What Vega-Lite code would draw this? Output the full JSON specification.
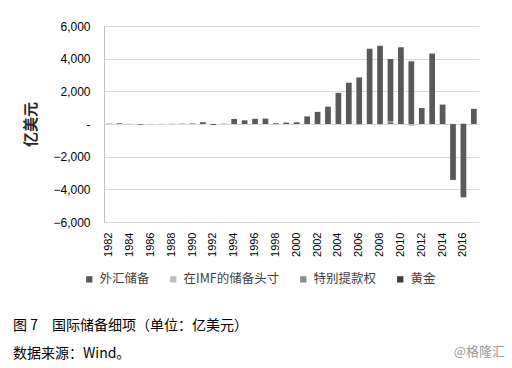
{
  "$schema": "https://vega.github.io/schema/vega-lite/v6.json",
  "width": 375,
  "height": 196,
  "autosize": {"type": "none"},
  "padding": {"left": 104, "top": 26, "right": 33, "bottom": 146},
  "background": "white",
  "title": {
    "text": "图 7　国际储备细项（单位：亿美元）",
    "subtitle": "数据来源：Wind。",
    "orient": "bottom",
    "anchor": "start",
    "frame": "group",
    "dx": -91,
    "offset": -40,
    "font": "Noto Sans CJK SC",
    "fontSize": 14,
    "fontWeight": "normal",
    "color": "#000000",
    "subtitleFont": "Noto Sans CJK SC",
    "subtitleFontSize": 14,
    "subtitleColor": "#000000",
    "subtitlePadding": 14
  },
  "layer": [
    {
      "data": {
        "values": [
          {"year": 1982, "type": "外汇储备", "value": 20},
          {"year": 1983, "type": "外汇储备", "value": 45},
          {"year": 1984, "type": "外汇储备", "value": 10},
          {"year": 1985, "type": "外汇储备", "value": -40},
          {"year": 1986, "type": "外汇储备", "value": 5},
          {"year": 1987, "type": "外汇储备", "value": 10},
          {"year": 1988, "type": "外汇储备", "value": 15},
          {"year": 1989, "type": "外汇储备", "value": 20},
          {"year": 1990, "type": "外汇储备", "value": 30},
          {"year": 1991, "type": "外汇储备", "value": 111},
          {"year": 1992, "type": "外汇储备", "value": -60},
          {"year": 1993, "type": "外汇储备", "value": 18},
          {"year": 1994, "type": "外汇储备", "value": 305},
          {"year": 1995, "type": "外汇储备", "value": 225},
          {"year": 1996, "type": "外汇储备", "value": 317},
          {"year": 1997, "type": "外汇储备", "value": 330},
          {"year": 1998, "type": "外汇储备", "value": 50},
          {"year": 1999, "type": "外汇储备", "value": 85},
          {"year": 2000, "type": "外汇储备", "value": 105},
          {"year": 2001, "type": "外汇储备", "value": 466},
          {"year": 2002, "type": "外汇储备", "value": 742},
          {"year": 2003, "type": "外汇储备", "value": 1060},
          {"year": 2004, "type": "外汇储备", "value": 1904},
          {"year": 2005, "type": "外汇储备", "value": 2526},
          {"year": 2006, "type": "外汇储备", "value": 2853},
          {"year": 2007, "type": "外汇储备", "value": 4607},
          {"year": 2008, "type": "外汇储备", "value": 4795},
          {"year": 2009, "type": "外汇储备", "value": 3821},
          {"year": 2010, "type": "外汇储备", "value": 4696},
          {"year": 2011, "type": "外汇储备", "value": 3848},
          {"year": 2012, "type": "外汇储备", "value": 987},
          {"year": 2013, "type": "外汇储备", "value": 4314},
          {"year": 2014, "type": "外汇储备", "value": 1188},
          {"year": 2015, "type": "外汇储备", "value": -3423},
          {"year": 2016, "type": "外汇储备", "value": -4487},
          {"year": 2017, "type": "外汇储备", "value": 929},
          {"year": 2006, "type": "在IMF的储备头寸", "value": -60},
          {"year": 2008, "type": "在IMF的储备头寸", "value": -50},
          {"year": 2011, "type": "在IMF的储备头寸", "value": -120},
          {"year": 2015, "type": "在IMF的储备头寸", "value": 9},
          {"year": 2016, "type": "在IMF的储备头寸", "value": 53},
          {"year": 2009, "type": "特别提款权", "value": 111},
          {"year": 2015, "type": "特别提款权", "value": -3},
          {"year": 2016, "type": "特别提款权", "value": -3},
          {"year": 2009, "type": "黄金", "value": 49}
        ]
      },
      "mark": {"type": "bar"},
      "encoding": {
        "x": {
          "field": "year",
          "type": "ordinal",
          "scale": {"paddingInner": 0.45, "paddingOuter": 0.22},
          "axis": {
            "values": [1982, 1984, 1986, 1988, 1990, 1992, 1994, 1996, 1998, 2000, 2002, 2004, 2006, 2008, 2010, 2012, 2014, 2016],
            "labelAngle": -90,
            "title": null,
            "ticks": false,
            "domain": false,
            "grid": false,
            "labelPadding": 10,
            "labelFont": "Liberation Sans",
            "labelFontSize": 11,
            "labelColor": "#000000"
          }
        },
        "y": {
          "field": "value",
          "type": "quantitative",
          "stack": "zero",
          "scale": {"domain": [-6000, 6000], "nice": false},
          "axis": {
            "values": [-6000, -4000, -2000, 0, 2000, 4000, 6000],
            "labelExpr": "datum.value == 0 ? '-' : format(datum.value, ',')",
            "title": "亿美元",
            "titleFont": "Noto Sans CJK SC",
            "titleFontSize": 15,
            "titleFontWeight": "bold",
            "titleColor": "#262626",
            "titlePadding": 14,
            "ticks": false,
            "domain": true,
            "domainColor": "#BFBFBF",
            "gridColor": "#D9D9D9",
            "labelPadding": 14,
            "labelFont": "Liberation Sans",
            "labelFontSize": 12,
            "labelColor": "#000000"
          }
        },
        "color": {
          "field": "type",
          "type": "nominal",
          "sort": ["外汇储备", "在IMF的储备头寸", "特别提款权", "黄金"],
          "scale": {
            "domain": ["外汇储备", "在IMF的储备头寸", "特别提款权", "黄金"],
            "range": ["#595959", "#BFBFBF", "#8C8C8C", "#3F3F3F"]
          },
          "legend": {
            "title": null,
            "orient": "none",
            "legendX": -21,
            "legendY": 247,
            "direction": "horizontal",
            "symbolType": "square",
            "symbolSize": 40,
            "symbolStrokeWidth": 0,
            "labelFont": "Noto Sans CJK SC",
            "labelFontSize": 12.5,
            "labelColor": "#404040",
            "labelOffset": 4,
            "columnPadding": 17,
            "padding": 0
          }
        }
      }
    },
    {
      "data": {"values": [{"t": "@格隆汇"}]},
      "mark": {
        "type": "text",
        "align": "right",
        "baseline": "middle",
        "dx": 26,
        "dy": 130,
        "font": "Noto Sans CJK SC",
        "fontSize": 13,
        "color": "#9A9A9A"
      },
      "encoding": {
        "text": {"field": "t"},
        "x": {"value": "width"},
        "y": {"value": "height"}
      }
    }
  ],
  "config": {
    "view": {"stroke": null}
  }
}
